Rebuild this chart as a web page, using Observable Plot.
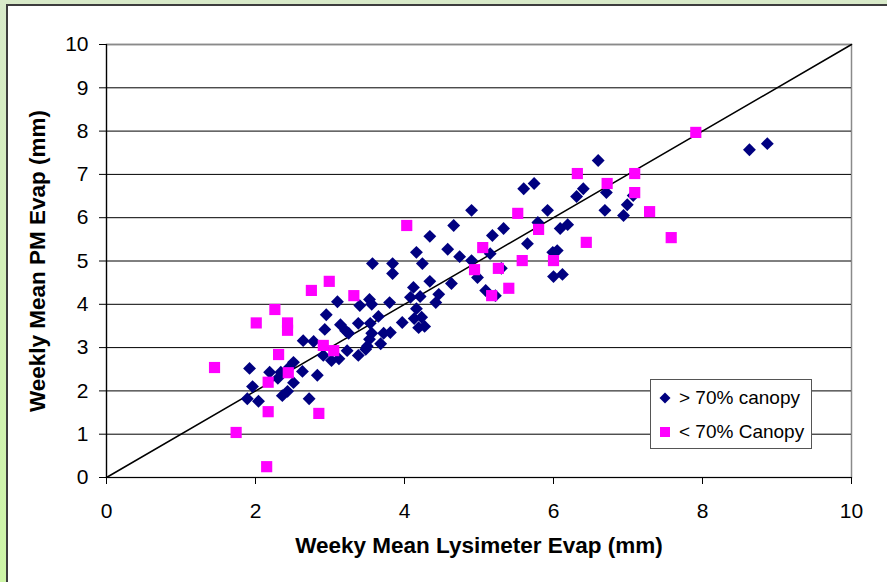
<!DOCTYPE html>
<html>
<head>
<meta charset="utf-8">
<script src="https://cdn.jsdelivr.net/npm/d3@7"></script>
<script src="https://cdn.jsdelivr.net/npm/@observablehq/plot@0.6"></script>
<style>
  html, body { margin: 0; padding: 0; }
  body {
    width: 887px; height: 582px; overflow: hidden; position: relative;
    background: linear-gradient(#d8eac9, #cdf5a6);
    font-family: "Liberation Sans", Arial, sans-serif;
  }
  #panel {
    position: absolute; left: 6px; top: 4px; width: 1000px; height: 1000px;
    background: #fff; border: 2px solid #3d3d3d;
  }
  #chart { position: absolute; left: 0; top: 0; }
  #legend {
    position: absolute; left: 650px; top: 379px; width: 160px; height: 68px;
    background: #fff; border: 1px solid #555; font-size: 19px; color: #000;
  }
  #legend .row { position: absolute; left: 8px; display: flex; align-items: center; white-space: nowrap; }
  #legend svg { margin-right: 8px; }
</style>
</head>
<body>
<div id="panel"></div>
<div id="chart"></div>
<div id="legend"></div>
<script>
// Weekly means (mm): [lysimeter evap, PM evap]
const canopyHigh = [
  [1.89,1.82],[1.92,2.52],[1.96,2.10],[2.04,1.76],[2.19,2.43],[2.30,2.29],
  [2.34,2.43],[2.36,1.89],[2.43,1.99],[2.45,2.54],[2.51,2.66],[2.51,2.19],
  [2.63,2.45],[2.64,3.16],[2.72,1.82],[2.78,3.14],[2.83,2.36],[2.91,2.82],
  [2.93,3.42],[2.95,3.76],[3.02,2.70],[3.10,4.06],[3.12,2.74],[3.14,3.53],
  [3.21,3.39],[3.23,2.93],[3.25,3.33],[3.38,3.56],[3.38,2.82],[3.40,3.97],
  [3.48,2.96],[3.50,3.03],[3.53,4.11],[3.54,3.56],[3.56,4.00],[3.53,3.19],
  [3.56,3.33],[3.57,4.94],[3.65,3.72],[3.68,3.09],[3.72,3.33],[3.81,3.35],
  [3.80,4.04],[3.84,4.94],[3.84,4.71],[3.97,3.58],[4.08,4.16],[4.12,4.39],
  [4.13,3.67],[4.16,3.90],[4.16,5.20],[4.19,3.46],[4.21,4.18],[4.23,3.70],
  [4.24,4.94],[4.27,3.49],[4.34,5.57],[4.34,4.53],[4.42,4.04],[4.46,4.23],
  [4.58,5.27],[4.63,4.48],[4.66,5.82],[4.74,5.10],[4.90,6.17],[4.90,5.01],
  [4.98,4.62],[5.09,4.32],[5.15,5.17],[5.18,5.59],[5.22,4.20],[5.30,4.83],
  [5.33,5.75],[5.60,6.67],[5.65,5.40],[5.74,6.79],[5.79,5.89],[5.92,6.17],
  [5.99,5.20],[6.00,4.64],[6.05,5.24],[6.09,5.75],[6.12,4.69],[6.19,5.84],
  [6.31,6.49],[6.40,6.67],[6.60,7.32],[6.71,6.58],[6.69,6.17],[6.94,6.05],
  [6.99,6.30],[7.07,6.51],[8.63,7.57],[8.87,7.71]
];
const canopyLow = [
  [1.45,2.54],[1.74,1.04],[2.01,3.57],[2.15,0.25],[2.17,1.52],[2.17,2.20],
  [2.26,3.88],[2.31,2.84],[2.43,3.57],[2.43,3.40],[2.44,2.42],[2.75,4.32],
  [2.85,1.48],[2.91,3.05],[2.99,4.53],[3.05,2.93],[3.32,4.20],[4.03,5.82],
  [4.94,4.80],[5.05,5.31],[5.17,4.20],[5.26,4.83],[5.40,4.37],[5.52,6.10],
  [5.58,5.01],[5.80,5.73],[6.00,5.01],[6.32,7.02],[6.44,5.43],[6.72,6.79],
  [7.09,7.02],[7.09,6.58],[7.29,6.14],[7.58,5.54],[7.91,7.97]
];
const xTicks = [0, 2, 4, 6, 8, 10];
const yTicks = [0, 1, 2, 3, 4, 5, 6, 7, 8, 9, 10];
const oneToOne = [0, 10];
const seriesNames = ["> 70% canopy", "< 70% Canopy"];
const seriesColors = ["#000080", "#ff00ff"];
const xTitle = "Weeky Mean Lysimeter Evap (mm)";
const yTitle = "Weekly Mean PM Evap (mm)";

const font = '"Liberation Sans", Arial, sans-serif';

const chart = Plot.plot({
  width: 887,
  height: 582,
  marginLeft: 106,
  marginRight: 36,
  marginTop: 44,
  marginBottom: 105,
  style: { background: "transparent", fontFamily: font, color: "#000" },
  x: { domain: [0, 10] },
  y: { domain: [0, 10] },
  marks: [
    Plot.frame({ stroke: "#8a8a8a", strokeWidth: 1.5 }),
    Plot.ruleY(yTicks.filter(d => d > 0 && d < 10), { stroke: "#000", strokeWidth: 1 }),
    Plot.ruleY([10], { stroke: "#8a8a8a", strokeWidth: 1.5 }),
    Plot.ruleX([0], { stroke: "#000", strokeWidth: 1.2 }),
    Plot.ruleY([0], { stroke: "#000", strokeWidth: 1.2 }),
    Plot.axisY({ ticks: yTicks, tickSize: 7, tickPadding: 11, fontSize: 21, label: null, tickFormat: d => String(d) }),
    Plot.axisX({ ticks: xTicks, tickSize: 7, tickPadding: 19, fontSize: 21, label: null, tickFormat: d => String(d) }),
    Plot.line(oneToOne, { x: d => d, y: d => d, stroke: "#000", strokeWidth: 1.5 }),
    Plot.dot(canopyHigh, { x: d => d[0], y: d => d[1], symbol: "diamond2", r: 5.8, fill: seriesColors[0], stroke: "none" }),
    Plot.dot(canopyLow, { x: d => d[0], y: d => d[1], symbol: "square", r: 6.3, fill: seriesColors[1], stroke: "none" }),
    Plot.text([xTitle], { frameAnchor: "bottom", dy: 75, fontSize: 22.5, fontWeight: "bold", text: d => d }),
    Plot.text([yTitle], { frameAnchor: "left", dx: -69, rotate: -90, textAnchor: "middle", lineAnchor: "middle", fontSize: 22.5, fontWeight: "bold", text: d => d })
  ]
});
document.getElementById("chart").appendChild(chart);

// Legend
const legend = document.getElementById("legend");
const shapes = [
  '<svg width="12" height="12" viewBox="-6 -6 12 12"><path d="M0,-5.5L5.5,0L0,5.5L-5.5,0Z" fill="' + seriesColors[0] + '"/></svg>',
  '<svg width="12" height="12" viewBox="-6 -6 12 12"><rect x="-5" y="-5" width="10" height="10" fill="' + seriesColors[1] + '"/></svg>'
];
seriesNames.forEach((name, i) => {
  const row = document.createElement("div");
  row.className = "row";
  row.style.top = (i === 0 ? 7 : 41) + "px";
  row.innerHTML = shapes[i] + "<span>" + name + "</span>";
  legend.appendChild(row);
});
</script>
</body>
</html>
